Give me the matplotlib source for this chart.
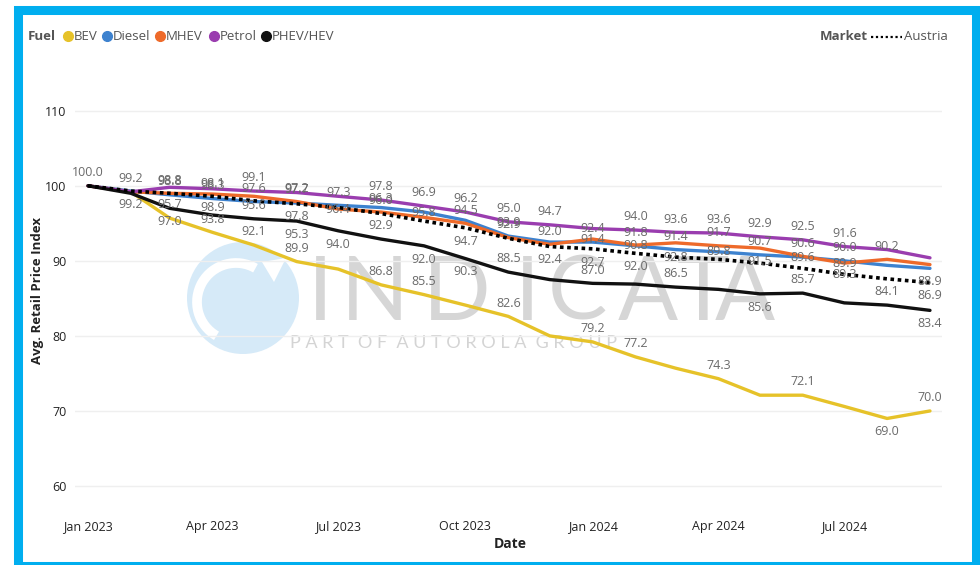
import matplotlib
matplotlib.use('Agg')
import matplotlib.pyplot as plt
import matplotlib.dates as mdates
import numpy as np
import pandas as pd
from matplotlib.lines import Line2D
from matplotlib.patches import Circle, Arc, Rectangle, Polygon

plt.rcParams['font.family'] = ['Open Sans', 'DejaVu Sans']

# Data (monthly, Jan 2023 - Sep 2024)
months = pd.date_range('2023-01-01', periods=21, freq='MS')
bev    = [100.0, 99.2, 95.7, 93.8, 92.1, 89.9, 88.9, 86.8, 85.5, 84.1, 82.6, 80.0, 79.2, 77.2, 75.7, 74.3, 72.1, 72.1, 70.6, 69.0, 70.0]
diesel = [100.0, 99.3, 98.8, 98.3, 97.9, 97.7, 97.4, 97.1, 96.5, 95.4, 93.3, 92.5, 92.5, 92.0, 91.5, 91.2, 90.8, 90.5, 90.0, 89.4, 89.0]
mhev   = [100.0, 99.2, 99.0, 98.9, 98.6, 97.9, 96.9, 96.5, 95.8, 95.0, 93.1, 92.2, 92.9, 92.1, 92.4, 92.0, 91.7, 90.6, 89.7, 90.2, 89.5]
petrol = [100.0, 99.2, 99.8, 99.6, 99.3, 99.1, 98.6, 98.1, 97.3, 96.5, 95.2, 94.8, 94.3, 94.1, 93.8, 93.7, 93.2, 92.8, 91.9, 91.5, 90.4]
phev   = [100.0, 99.0, 97.0, 96.1, 95.6, 95.3, 94.0, 92.9, 92.0, 90.3, 88.5, 87.5, 87.0, 86.9, 86.5, 86.2, 85.6, 85.7, 84.4, 84.1, 83.4]
austria = [100.0, 99.3, 99.0, 98.6, 98.0, 97.6, 97.1, 96.3, 95.3, 94.4, 93.0, 91.9, 91.6, 91.0, 90.5, 90.2, 89.7, 89.0, 88.2, 87.6, 87.1]

# data labels as printed in the picture: (month index, text, side) side 1=above, -1=below, 0=on line
bev_labels = [(0, '100.0', 1), (1, '99.2', -1), (2, '95.7', 1), (3, '93.8', 1), (4, '92.1', 1), (5, '89.9', 1),
              (7, '86.8', 1), (8, '85.5', 1), (10, '82.6', 1), (12, '79.2', 1), (13, '77.2', 1), (15, '74.3', 1),
              (17, '72.1', 1), (19, '69.0', -1), (20, '70.0', 1)]
phev_labels = [(2, '97.0', -1), (4, '95.6', 1), (5, '95.3', -1), (6, '94.0', -1), (7, '92.9', 1), (8, '92.0', -1),
               (9, '90.3', -1), (10, '88.5', 1), (12, '87.0', 1), (14, '86.5', 1), (16, '85.6', -1), (17, '85.7', 1),
               (19, '84.1', 1), (20, '83.4', -1)]
petrol_labels = [(1, '99.2', 1), (4, '99.1', 1), (7, '97.8', 1), (8, '96.9', 1), (9, '96.2', 1), (10, '95.0', 1),
                 (11, '94.7', 1), (13, '94.0', 1), (14, '93.6', 1), (15, '93.6', 1), (16, '92.9', 1), (17, '92.5', 1),
                 (18, '91.6', 1)]
diesel_labels = [(2, '98.8', 1), (3, '98.3', 1), (4, '97.6', 1), (5, '97.7', 1), (6, '97.3', 1), (8, '95.8', 0),
                 (10, '93.9', 1), (12, '92.4', 1), (13, '91.8', 1), (14, '91.4', 1), (15, '89.8', 0), (16, '90.7', 1),
                 (17, '89.6', 0), (18, '90.0', 1), (20, '88.9', -1)]
mhev_labels = [(2, '98.8', 1), (3, '98.9', -1), (5, '97.2', 1), (6, '96.4', 0), (7, '96.3', 1), (9, '94.5', 1),
               (10, '92.9', 1), (11, '92.0', 1), (12, '91.4', 0), (13, '90.8', 0), (15, '91.7', 1), (16, '91.5', -1),
               (17, '90.6', 1), (18, '89.9', 0), (19, '90.2', 1)]
austria_labels = [(3, '98.1', 1), (5, '97.8', -1), (7, '96.0', 1), (9, '94.7', -1), (11, '92.4', -1), (12, '92.7', -1),
                  (13, '92.0', -1), (14, '92.8', 0), (18, '89.3', 0), (20, '86.9', -1)]

fuel_names = ['BEV', 'Diesel', 'MHEV', 'Petrol', 'PHEV/HEV']
colors = ['#E6C229', '#3D82CF', '#EE6A2A', '#9A3DAF', '#111111']
series = [bev, diesel, mhev, petrol, phev]
label_sets = [bev_labels, diesel_labels, mhev_labels, petrol_labels, phev_labels]

W, H = 980, 565
fig = plt.figure(figsize=(9.8, 5.65), dpi=100)
fx = lambda x: x / W
fy = lambda y: 1 - y / H

# watermark layer (pixel coordinates)
bg = fig.add_axes([0, 0, 1, 1], zorder=0)
bg.set_xlim(0, W)
bg.set_ylim(H, 0)
bg.axis('off')
bg.add_patch(Circle((243, 298), 56, color='#d6eaf8', lw=0))
bg.add_patch(Arc((236, 302), 78, 78, theta1=120, theta2=300, color='white', lw=7))
bg.add_patch(Polygon([[262, 262], [286, 258], [274, 282]], closed=True, color='white', lw=0))
wm_x = [320, 375, 457, 527, 577, 648, 703, 745]
for x, ch in zip(wm_x, 'INDICATA'):
    bg.text(x, 295, ch, fontsize=64, color='#d6d6d6', ha='center', va='center', family='Lato')
bg.text(453, 343, '  '.join(' '.join(w) for w in 'PART OF AUTOROLA GROUP'.split()), fontsize=13,
        color='#d4d4d4', ha='center', va='center', family='Lato')

ax = fig.add_axes([fx(75), fy(505), fx(942) - fx(75), fy(100) - fy(505)], zorder=1)
ax.patch.set_alpha(0)

for vals, c, name in zip(series, colors, fuel_names):
    ax.plot(months, vals, color=c, lw=2.4, solid_capstyle='round', label=name)
ax.plot(months, austria, color='black', lw=2.6, ls=(0, (1, 1)), label='Austria')

offs = {1: 9.5, -1: -9.5, 0: 0}
for vals, labs in list(zip(series, label_sets)) + [(austria, austria_labels)]:
    for idx, txt, side in labs:
        ax.annotate(txt, (months[idx], vals[idx]), xytext=(0, offs[side]), textcoords='offset points',
                    ha='center', va='center', fontsize=9, color='#6a6a6a')

ax.set_ylim(57.47, 111.43)
ax.set_xlim(pd.Timestamp('2023-01-01') - pd.Timedelta(days=9.4),
            pd.Timestamp('2024-09-01') + pd.Timedelta(days=8.7))
ax.set_yticks([60, 70, 80, 90, 100, 110])
ax.xaxis.set_major_locator(mdates.MonthLocator(bymonth=[1, 4, 7, 10]))
ax.xaxis.set_major_formatter(mdates.DateFormatter('%b %Y'))
ax.tick_params(axis='both', length=0, labelsize=9, colors='#222222')
ax.tick_params(axis='x', pad=11)
ax.tick_params(axis='y', pad=6)
ax.grid(axis='y', color='#efefef', lw=1)
ax.set_axisbelow(True)
for s in ax.spines.values():
    s.set_visible(False)

fig.text(fx(510), fy(544), 'Date', fontsize=10, weight='bold', color='#222222', ha='center', va='center')
fig.text(fx(38), fy(290), 'Avg. Retail Price Index', fontsize=9.5, weight='bold', color='#222222',
         rotation=90, ha='center', va='center')

# legends
fig.text(fx(28), fy(36), 'Fuel', fontsize=9.5, weight='bold', color='#555555', va='center')
dot_x = [68, 107, 160, 214, 266]
for x, c, name in zip(dot_x, colors, fuel_names):
    fig.add_artist(Line2D([fx(x)], [fy(36)], marker='o', ms=7, color=c, lw=0, transform=fig.transFigure))
    fig.text(fx(x + 6), fy(36), name, fontsize=9.5, color='#555555', va='center')
fig.text(fx(820), fy(36), 'Market', fontsize=9.5, weight='bold', color='#555555', va='center')
fig.add_artist(Line2D([fx(871), fx(902)], [fy(37), fy(37)], color='black', lw=1.6, ls=(0, (1, 1.2)),
                      transform=fig.transFigure))
fig.text(fx(904), fy(36), 'Austria', fontsize=9.5, color='#555555', va='center')

# cyan frame
fig.add_artist(Rectangle((fx(17.5), fy(566)), fx(975.5) - fx(17.5), fy(9.5) - fy(566), fill=False,
                         ec='#00AEEF', lw=6.5, transform=fig.transFigure, clip_on=False))

fig.savefig('out.png', dpi=100)
